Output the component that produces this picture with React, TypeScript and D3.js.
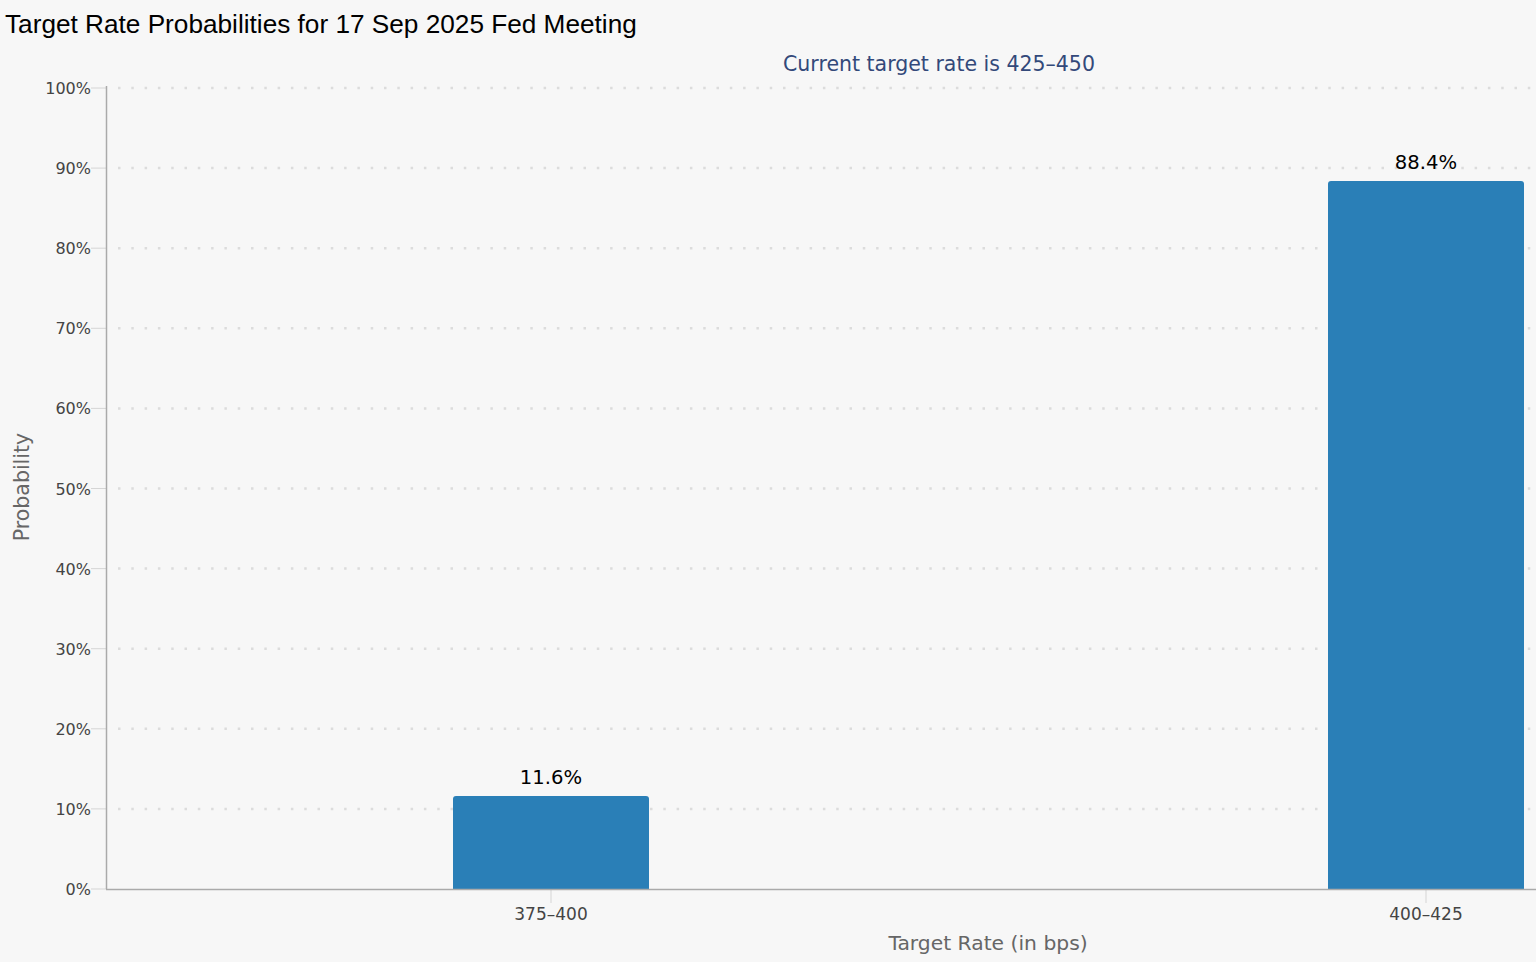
import React from "react";
import * as d3 from "d3";

const categories = ["375–400", "400–425"];
const probabilities = [11.6, 88.4];
const yTicks = [0, 10, 20, 30, 40, 50, 60, 70, 80, 90, 100];
const title = "Target Rate Probabilities for 17 Sep 2025 Fed Meeting";
const subtitle = "Current target rate is 425–450";

const W = 1536;
const H = 962;
const left = 106;
const top = 88;
const bottom = 889;

export default function App() {
  const y = d3.scaleLinear().domain([0, 100]).range([bottom, top]);
  const x = d3
    .scaleBand<string>()
    .domain(categories)
    .range([113.5, 1863.5])
    .paddingInner(0.776)
    .paddingOuter(0.388);
  const font = "'DejaVu Sans', sans-serif";
  const bw = x.bandwidth();
  const r = 3;
  const barPath = (x0: number, y0: number, w: number, h: number) =>
    `M${x0},${y0 + h}V${y0 + r}Q${x0},${y0} ${x0 + r},${y0}H${x0 + w - r}Q${x0 + w},${y0} ${x0 + w},${y0 + r}V${y0 + h}Z`;
  return (
    <svg width={W} height={H} style={{ position: "absolute", left: 0, top: 0, background: "#f7f7f7" }}>
      <rect x={0} y={0} width={W} height={H} fill="#f7f7f7" />
      <text x={5} y={33} fontFamily="'Liberation Sans', Arial, sans-serif" fontSize={26.2} fill="#000">{title}</text>
      <text x={939} y={71} textAnchor="middle" fontFamily={font} fontSize={20.5} fill="#33497a">{subtitle}</text>
      {yTicks.map((t) => (
        <g key={t}>
          {t > 0 && (
            <line x1={left + 12} x2={W} y1={y(t)} y2={y(t)} stroke="#dcdcdc" strokeWidth={2.5} strokeDasharray="2.5,10.8" />
          )}
          <line x1={91} x2={left} y1={y(t)} y2={y(t)} stroke="#d5d5d5" strokeWidth={1} />
          <text x={91} y={y(t) + 6} textAnchor="end" fontFamily={font} fontSize={16} fill="#444">{t}%</text>
        </g>
      ))}
      {categories.map((c, i) => {
        const x0 = x(c)!;
        const y0 = y(probabilities[i]);
        return (
          <g key={c}>
            <path d={barPath(x0, y0, bw, bottom - y0)} fill="#2a7fb7" />
            <text x={x0 + bw / 2} y={y0 - 12} textAnchor="middle" fontFamily={font} fontSize={19.6} fill="#000">{probabilities[i].toFixed(1)}%</text>
            <line x1={x0 + bw / 2} x2={x0 + bw / 2} y1={bottom} y2={bottom + 14} stroke="#d5d5d5" />
            <text x={x0 + bw / 2} y={920} textAnchor="middle" fontFamily={font} fontSize={17} fill="#444">{c}</text>
          </g>
        );
      })}
      <line x1={left} x2={W} y1={bottom + 0.5} y2={bottom + 0.5} stroke="#aaa" strokeWidth={1.5} />
      <line x1={left + 0.5} x2={left + 0.5} y1={top - 2} y2={bottom} stroke="#aaa" strokeWidth={1.5} />
      <text x={988} y={950} textAnchor="middle" fontFamily={font} fontSize={20.3} fill="#666">Target Rate (in bps)</text>
      <text transform={`translate(29,487) rotate(-90)`} textAnchor="middle" fontFamily={font} fontSize={20.5} fill="#666">Probability</text>
    </svg>
  );
}
